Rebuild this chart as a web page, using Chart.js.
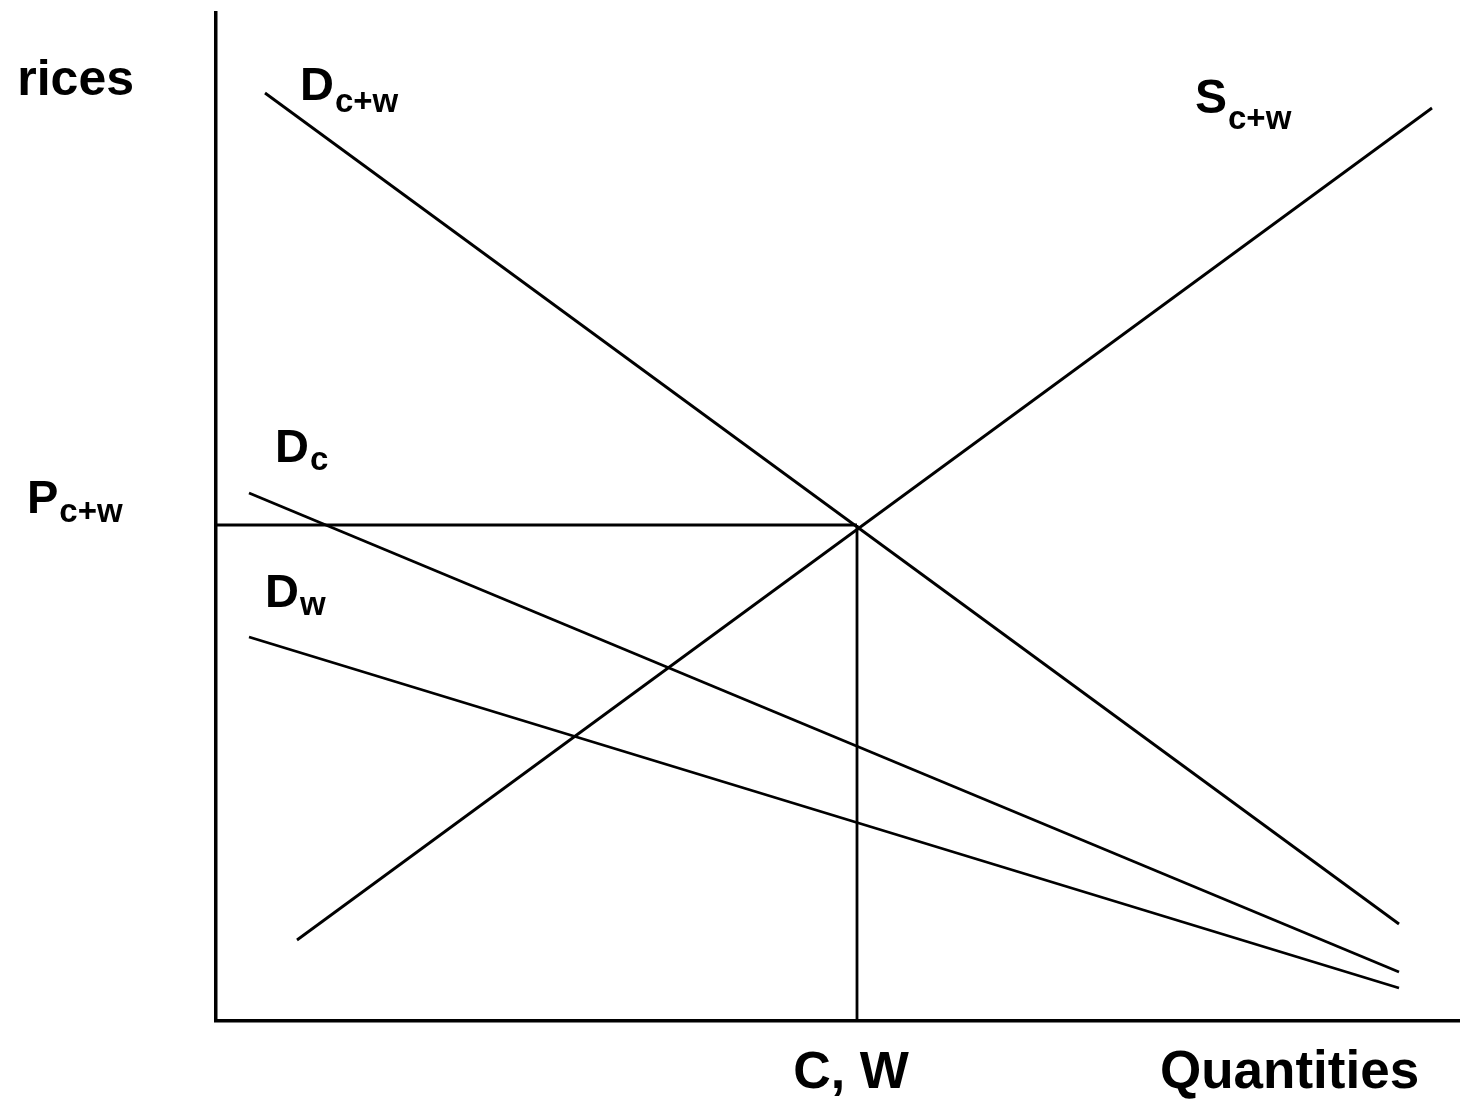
<!DOCTYPE html>
<html>
<head>
<meta charset="utf-8">
<script src="https://cdn.jsdelivr.net/npm/chart.js@4/dist/chart.umd.min.js"></script>
<style>
html,body{margin:0;padding:0;background:#fff;}
#wrap{width:1460px;height:1099px;}
</style>
</head>
<body>
<div id="wrap"><canvas id="c" width="1460" height="1099"></canvas></div>
<script>
// Quantities (x) and prices (y), in arbitrary units
const demandTotal = [{x: 4.9, y: 92.8}, {x: 118.3, y: 9.7}];   // D c+w
const supplyTotal = [{x: 8.1, y: 8.1}, {x: 121.6, y: 91.3}];   // S c+w
const demandC     = [{x: 3.3, y: 52.8}, {x: 118.3, y: 4.9}];   // D c
const demandW     = [{x: 3.3, y: 38.4}, {x: 118.3, y: 3.3}];   // D w
const eqPrice = 49.6;      // P c+w
const eqQuantity = 64.1;   // C, W
const priceGuide = [{x: 0, y: eqPrice}, {x: eqQuantity, y: eqPrice}];
const quantityGuide = [{x: eqQuantity, y: eqPrice}, {x: eqQuantity, y: 0}];

const FONT = '"Liberation Sans", Arial, sans-serif';

function lineSet(data){
  return {data, showLine: true, borderColor: '#000', borderWidth: 2.8,
          pointRadius: 0, pointHoverRadius: 0, fill: false, tension: 0};
}

const labelPlugin = {
  id: 'labels',
  afterDraw(chart){
    const ctx = chart.ctx;
    const xs = chart.scales.x, ys = chart.scales.y;
    const px = v => xs.getPixelForValue(v);
    const py = v => ys.getPixelForValue(v);
    ctx.save();
    ctx.fillStyle = '#000';
    ctx.textBaseline = 'alphabetic';
    function sub(main, s, x, y, mainSize, subSize, dy){
      ctx.textAlign = 'left';
      ctx.font = 'bold ' + mainSize + 'px ' + FONT;
      ctx.fillText(main, x, y);
      const w = ctx.measureText(main).width;
      ctx.font = 'bold ' + subSize + 'px ' + FONT;
      ctx.fillText(s, x + w + 1, y + dy);
    }
    // curve labels near their upper ends
    sub('D', 'c+w', px(demandTotal[0].x) + 35, py(demandTotal[0].y) + 7, 47, 33, 12);
    sub('S', 'c+w', px(supplyTotal[1].x) - 237, py(supplyTotal[1].y) + 5, 48, 33, 16);
    sub('D', 'c', px(demandC[0].x) + 26, py(demandC[0].y) - 31, 47, 33, 8);
    sub('D', 'w', px(demandW[0].x) + 16, py(demandW[0].y) - 30, 47, 33, 8);
    // tick-like labels
    sub('P', 'c+w', 27, py(eqPrice) - 12, 47, 33, 9);
    ctx.font = 'bold 52px ' + FONT;
    ctx.textAlign = 'center';
    ctx.fillText('C, W', px(eqQuantity) - 6, 1088);
    // axis titles
    ctx.font = 'bold 53px ' + FONT;
    ctx.textAlign = 'left';
    ctx.fillText('Quantities', 1160, 1088);
    ctx.font = 'bold 50px ' + FONT;
    ctx.textAlign = 'right';
    ctx.fillText('rices', 134, 95);
    ctx.restore();
  }
};

new Chart(document.getElementById('c'), {
  type: 'scatter',
  data: {
    datasets: [
      lineSet(demandTotal),
      lineSet(supplyTotal),
      lineSet(demandC),
      lineSet(demandW),
      lineSet(priceGuide),
      lineSet(quantityGuide)
    ]
  },
  options: {
    responsive: false,
    animation: false,
    events: [],
    layout: {padding: {left: 216, top: 13, right: 0, bottom: 78}},
    plugins: {legend: {display: false}, tooltip: {enabled: false}, title: {display: false}},
    scales: {
      x: {type: 'linear', min: 0, max: 124.4,
          grid: {display: false, drawTicks: false},
          border: {display: true, color: '#000', width: 3.5},
          ticks: {display: false}},
      y: {type: 'linear', min: 0, max: 100.8,
          grid: {display: false, drawTicks: false},
          border: {display: true, color: '#000', width: 3.5},
          ticks: {display: false}}
    }
  },
  plugins: [labelPlugin]
});
</script>
</body>
</html>
